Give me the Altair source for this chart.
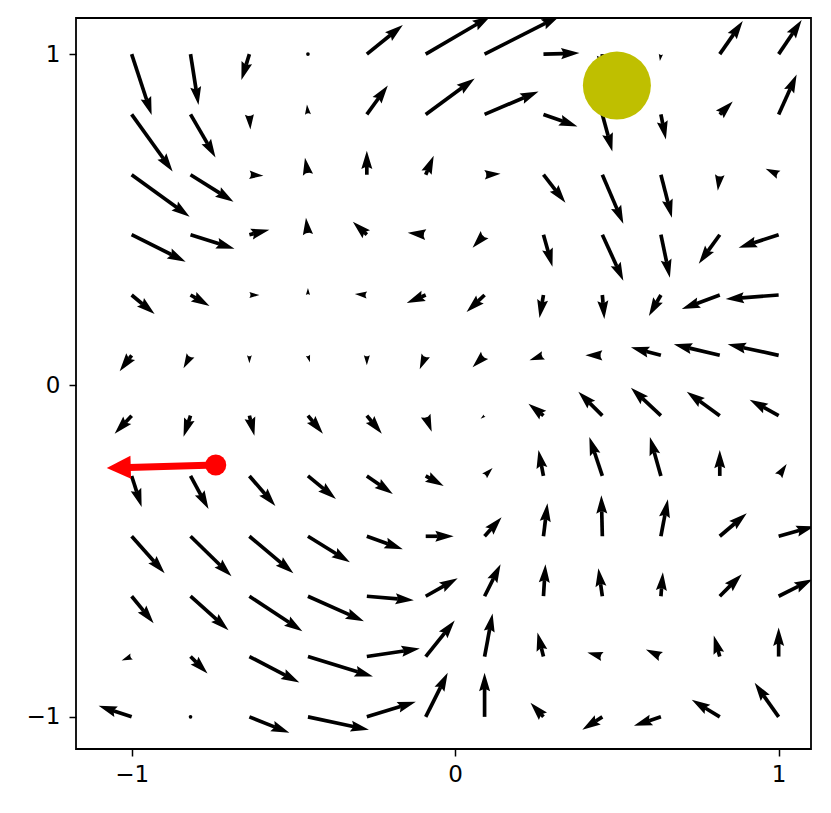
import math
import altair as alt
import pandas as pd

# ---- data ----
GRID_X = [-1.0, -0.818, -0.636, -0.455, -0.273, -0.091, 0.091, 0.273, 0.455, 0.636, 0.818, 1.0]
GRID_Y = [1.0, 0.818, 0.636, 0.455, 0.273, 0.091, -0.091, -0.273, -0.455, -0.636, -0.818, -1.0]

# vector components (quiver units), rows listed from top (y=1) to bottom (y=-1)
U = [
    [20, 8, -8, 1, 36, 65, 75, 36, 0, -1, 23, 23],
    [41, 25, 1, -1, 21, 49, 54, 34, 10, 5, 13, 18],
    [58, 43, 14, -3, 0, 8, 16, 22, 21, 11, -2, -13],
    [54, 44, 20, -2, -14, -18, -12, 9, 21, 9, -21, -40],
    [23, 19, 10, 0, -12, -19, -18, -4, 2, -12, -38, -53],
    [-12, -7, 0, 2, 0, -6, -12, -14, -17, -30, -46, -51],
    [-17, -7, 5, 15, 15, 6, -4, -15, -24, -30, -33, -29],
    [10, 18, 26, 28, 26, 18, 8, -5, -13, -11, 0, 8],
    [33, 41, 44, 42, 36, 28, 17, 4, -1, 7, 27, 36],
    [22, 38, 53, 56, 47, 32, 16, 2, -4, 2, 22, 34],
    [-10, 17, 50, 65, 53, 29, 8, -6, -15, -15, -6, 0],
    [-33, 0, 40, 61, 49, 22, 0, -13, -20, -27, -28, -24],
]
V = [
    [-61, -51, -26, 0, 29, 38, 38, 1, -20, -7, 33, 34],
    [-57, -43, -15, 10, 29, 36, 23, -12, -37, -25, 13, 40],
    [-42, -27, -1, 17, 24, 19, 1, -28, -49, -43, -16, 6],
    [-27, -14, 5, 17, 13, 2, -13, -32, -46, -43, -29, -13],
    [-19, -11, 0, 7, 1, -8, -17, -23, -24, -21, -14, -4],
    [-16, -13, -8, -7, -10, -14, -12, -5, 0, 8, 11, 11],
    [-18, -21, -20, -18, -18, -16, -3, 12, 24, 28, 24, 16],
    [-31, -33, -30, -23, -18, -10, 8, 26, 39, 39, 26, 12],
    [-37, -40, -37, -26, -13, 0, 19, 33, 41, 37, 23, 10],
    [-27, -34, -35, -25, -4, 18, 32, 32, 28, 24, 22, 17],
    [-4, -17, -26, -20, 8, 36, 43, 24, 4, 7, 21, 29],
    [11, 0, -16, -13, 15, 44, 44, 14, -13, -9, 17, 34],
]

TARGET_X, TARGET_Y = [0.5], [0.905]
AGENT_X, AGENT_Y = [-0.74], [-0.24]
AGENT_U, AGENT_V = [-109], [-3]

# ---- layout / style ----
W, H = 735, 731
XD = [-1.172, 1.10]
YD = [-1.097, 1.109]
PXX = W / (XD[1] - XD[0])
PXY = H / (YD[1] - YD[0])
SHAFT = 3.675          # quiver shaft width (px)
HEAD_PATH = "M0,0L0.6,2L0.2,1.8L-0.2,1.8L-0.6,2Z"
RED_HEAD_PATH = "M0,0L0.96,2L-0.96,2Z"
RED_SHAFT, RED_HEAD_LEN = 7, 24

shafts, heads, dots = [], [], []
for i, y in enumerate(GRID_Y):
    for j, x in enumerate(GRID_X):
        u, v = U[i][j], V[i][j]
        L = math.hypot(u, v)
        if L < SHAFT:
            dots.append({"x": x, "y": y})
            continue
        k = min(1.0, L / (5 * SHAFT))
        ex, ey = u / L, v / L
        heads.append({"x": x + u / PXX, "y": y + v / PXY,
                      "ang": math.degrees(math.atan2(u, v)) % 360,
                      "sz": (5 * SHAFT * k) ** 2})
        if L >= 5 * SHAFT:
            s = L - 4.4 * SHAFT
            shafts.append({"x": x, "y": y, "x2": x + s * ex / PXX, "y2": y + s * ey / PXY,
                           "sw": SHAFT})

red_sh, red_hd = [], []
for x, y, u, v in zip(AGENT_X, AGENT_Y, AGENT_U, AGENT_V):
    L = math.hypot(u, v)
    ex, ey = u / L, v / L
    s = L - RED_HEAD_LEN + 2
    red_sh.append({"x": x, "y": y, "x2": x + s * ex / PXX, "y2": y + s * ey / PXY})
    red_hd.append({"x": x + u / PXX, "y": y + v / PXY,
                   "ang": math.degrees(math.atan2(u, v)) % 360,
                   "sz": RED_HEAD_LEN ** 2})

axis_common = dict(labelFont="DejaVu Sans", labelFontSize=23, labelColor="black",
                   tickColor="black", tickSize=7, tickWidth=1.5, domain=False,
                   grid=False, title=None, format="d")
X = alt.X("x:Q", scale=alt.Scale(domain=XD, nice=False, zero=False),
          axis=alt.Axis(values=[-1, 0, 1], labelPadding=7, **axis_common))
Y = alt.Y("y:Q", scale=alt.Scale(domain=YD, nice=False, zero=False),
          axis=alt.Axis(values=[-1, 0, 1], labelPadding=9, **axis_common))

shaft_layer = alt.Chart(pd.DataFrame(shafts)).mark_rule(color="black", clip=True, strokeCap="butt").encode(
    x=X, y=Y, x2="x2:Q", y2="y2:Q", strokeWidth=alt.StrokeWidth("sw:Q", scale=None))
head_layer = alt.Chart(pd.DataFrame(heads)).mark_point(
    shape=HEAD_PATH, filled=True, color="black", opacity=1, strokeWidth=0, clip=True).encode(
    x=X, y=Y, angle=alt.Angle("ang:Q", scale=None), size=alt.Size("sz:Q", scale=None))
dot_layer = alt.Chart(pd.DataFrame(dots)).mark_point(
    shape="circle", filled=True, color="black", opacity=1, size=SHAFT ** 2, strokeWidth=0).encode(x=X, y=Y)
target_layer = alt.Chart(pd.DataFrame({"x": TARGET_X, "y": TARGET_Y})).mark_point(
    shape="circle", filled=True, color="#bfbf00", opacity=1, size=68 ** 2, strokeWidth=0).encode(x=X, y=Y)
red_shaft_layer = alt.Chart(pd.DataFrame(red_sh)).mark_rule(
    color="#ff0000", strokeWidth=RED_SHAFT, strokeCap="butt", clip=True).encode(x=X, y=Y, x2="x2:Q", y2="y2:Q")
red_head_layer = alt.Chart(pd.DataFrame(red_hd)).mark_point(
    shape=RED_HEAD_PATH, filled=True, color="#ff0000", opacity=1, strokeWidth=0, clip=True).encode(
    x=X, y=Y, angle=alt.Angle("ang:Q", scale=None), size=alt.Size("sz:Q", scale=None))
agent_layer = alt.Chart(pd.DataFrame({"x": AGENT_X, "y": AGENT_Y})).mark_point(
    shape="circle", filled=True, color="#ff0000", opacity=1, size=21 ** 2, strokeWidth=0).encode(x=X, y=Y)

chart = alt.layer(shaft_layer, head_layer, dot_layer, target_layer,
                  red_shaft_layer, red_head_layer, agent_layer).properties(
    width=W, height=H,
    autosize=alt.AutoSizeParams(type="none"),
    padding={"left": 68, "top": 10, "right": 8, "bottom": 50},
    background="white",
).configure_view(stroke="black", strokeWidth=1.8)

chart.save("out.html", embed_options={"renderer": "svg", "actions": False})
